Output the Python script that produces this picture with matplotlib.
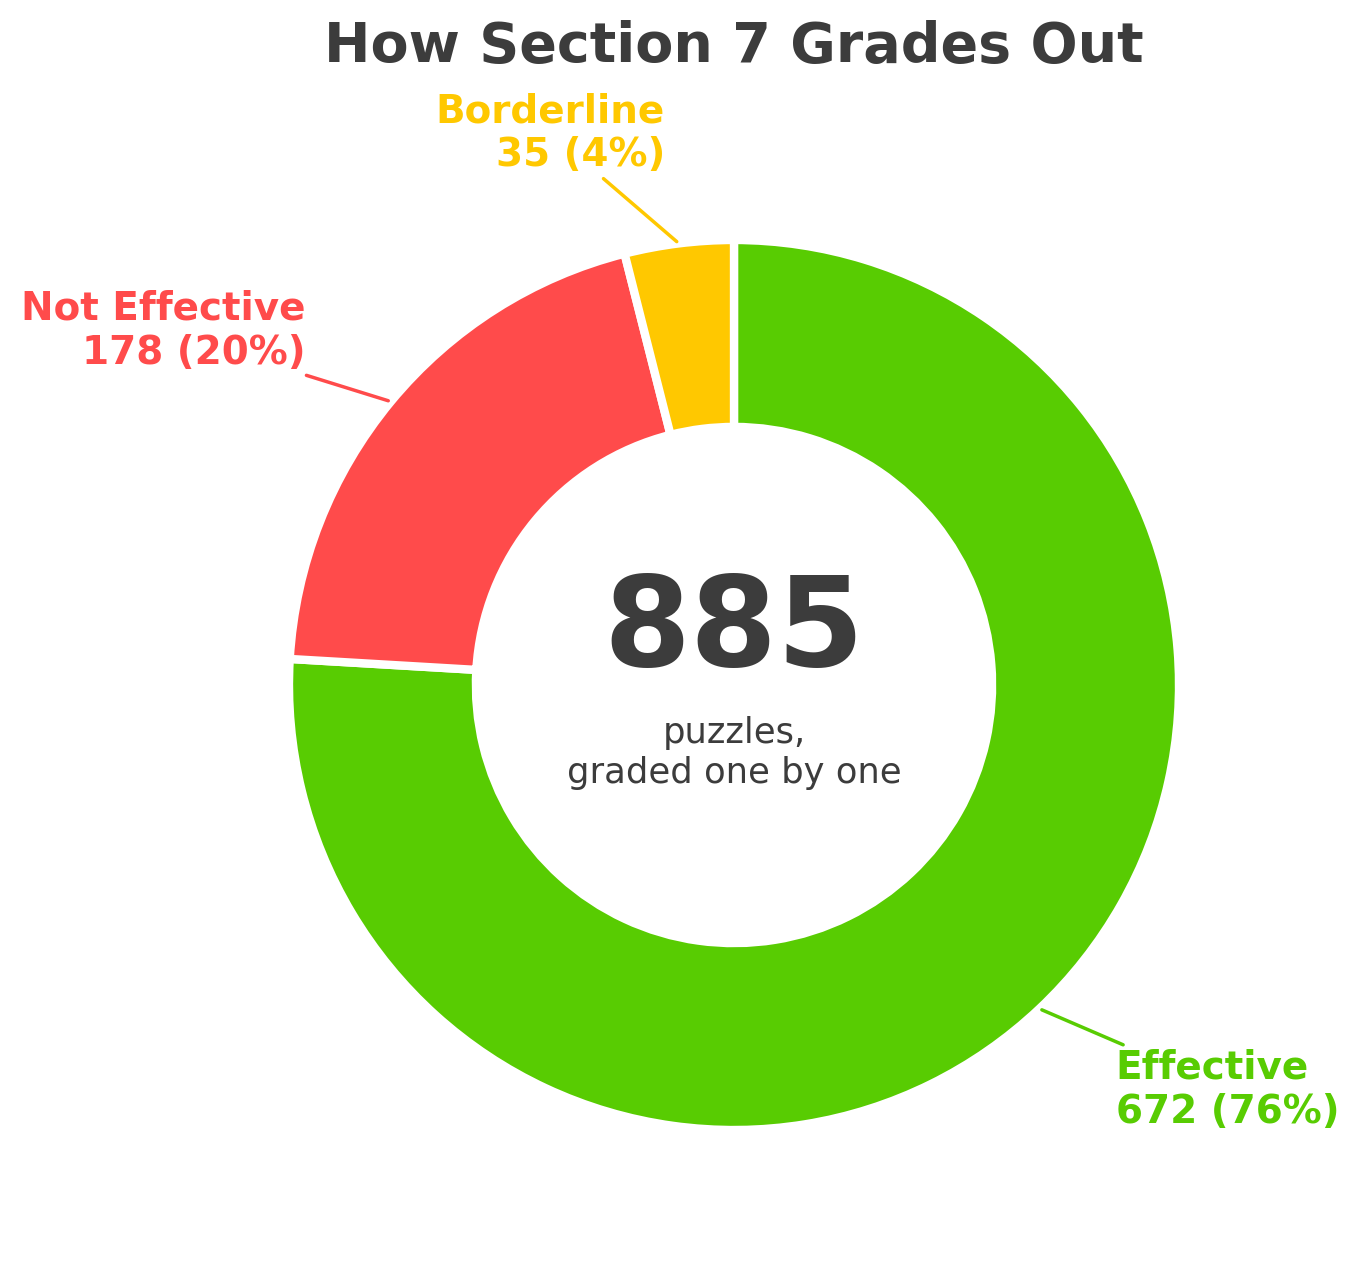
import numpy as np
import matplotlib.pyplot as plt

# donnees
categories = ["Effective", "Not Effective", "Borderline"]
counts = [672, 178, 35]
colors = ["#58CC02", "#FF4B4B", "#FFC800"]
titre = "How Section 7 Grades Out"
sous_titre = "puzzles,\ngraded one by one"
sombre = "#3C3C3C"

total = sum(counts)

fig = plt.figure(figsize=(13.59, 12.62), dpi=100)
ax = fig.add_axes([0, 0, 1, 1])

wedges, _ = ax.pie(counts, colors=colors, startangle=90, counterclock=False,
                   wedgeprops=dict(width=0.42, edgecolor="white", linewidth=6))

# etiquettes avec traits
for w, nom, n, c in zip(wedges, categories, counts, colors):
    ang = np.deg2rad((w.theta1 + w.theta2) / 2)
    x, y = np.cos(ang), np.sin(ang)
    ha = "left" if x > 0 else "right"
    pct = 100 * n / total
    ax.annotate("%s\n%d (%.0f%%)" % (nom, n, pct), xy=(x, y),
                xytext=(1.25 * x, 1.25 * y), ha=ha, va="center",
                fontsize=28, fontweight="bold", color=c,
                arrowprops=dict(arrowstyle="-", color=c, lw=2.5))

# centre
ax.text(0, 0.043, "%d" % total, ha="center", va="baseline",
        fontsize=90, fontweight="bold", color=sombre)
ax.text(0, -0.220, sous_titre, ha="center", va="baseline",
        fontsize=25.5, color=sombre)
ax.text(0, 1.40, titre, ha="center", va="baseline",
        fontsize=40, fontweight="bold", color=sombre)

ax.set_xlim(-734 / 445, 625 / 445)
ax.set_ylim(-577 / 445, 685 / 445)
ax.set_aspect("auto")
ax.axis("off")

fig.savefig("out.png", dpi=100)
